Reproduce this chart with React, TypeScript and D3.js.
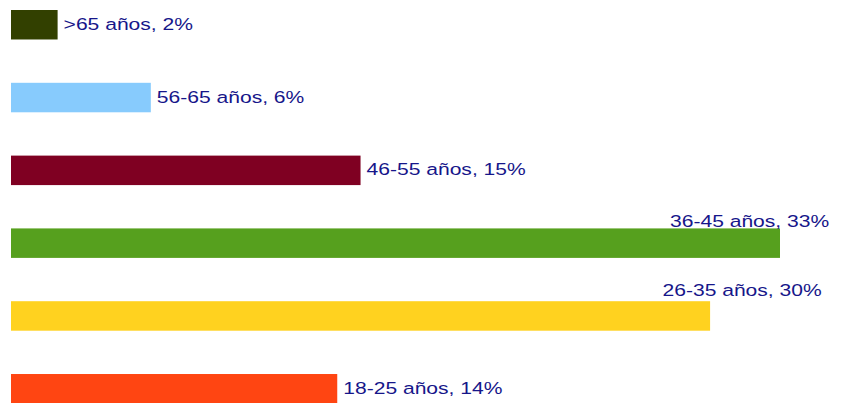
import React from "react";
import * as d3 from "d3";

const categories = [">65 años", "56-65 años", "46-55 años", "36-45 años", "26-35 años", "18-25 años"];
const values = [2, 6, 15, 33, 30, 14];
const colors = ["#324000", "#87cbfd", "#7f0022", "#56a01e", "#ffd21f", "#ff4512"];

const W = 844;
const H = 403;
const FONT = "Liberation Sans, Arial, sans-serif";
const TEXT_COLOR = "#16168a";
const STRETCH = 1.24;

// labels that would overflow the right edge are moved above their bars
const overflowPos: Record<string, { x: number; dy: number }> = {
  "36-45 años": { x: 670, dy: -1.7 },
  "26-35 años": { x: 662.5, dy: -5.7 },
};

export default function App() {
  const x = d3.scaleLinear().domain([0, 33]).range([11, 780]);
  const y = d3
    .scaleBand<string>()
    .domain(categories)
    .range([10, 403.5])
    .paddingInner(0.595)
    .paddingOuter(0);
  const bw = y.bandwidth();

  return (
    <svg
      width={W}
      height={H}
      style={{ position: "absolute", left: 0, top: 0, background: "#fff" }}
    >
      {categories.map((c, i) => {
        const top = y(c)!;
        const xe = x(values[i]);
        const label = `${c}, ${values[i]}%`;
        const ov = overflowPos[c];
        const tx = ov ? ov.x : xe + 6;
        const ty = ov ? top + ov.dy : top + bw / 2 + 5;
        return (
          <g key={c}>
            <rect x={x(0)} y={top} width={xe - x(0)} height={bw} fill={colors[i]} />
            <text
              transform={`translate(${tx},${ty}) scale(${STRETCH},1)`}
              fontFamily={FONT}
              fontSize={17}
              fill={TEXT_COLOR}
            >
              {label}
            </text>
          </g>
        );
      })}
    </svg>
  );
}
